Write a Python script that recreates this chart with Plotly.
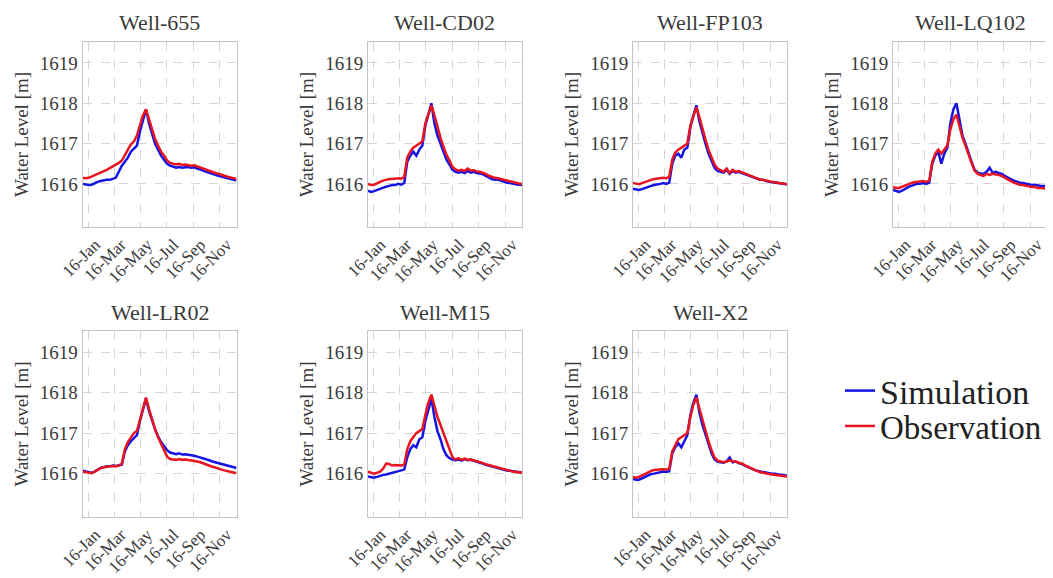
import pandas as pd
import plotly.graph_objects as go

# page has an 8px body margin; figure coordinates are page coordinates minus 8
OFF = 8
W, H = 1053 - OFF, 578 - OFF

wells = ["Well-655", "Well-CD02", "Well-FP103", "Well-LQ102", "Well-LR02", "Well-M15", "Well-X2"]
dates = pd.date_range("2016-01-03", periods=52, freq="7D")
tick_vals = ["2016-01-16", "2016-03-16", "2016-05-16", "2016-07-16", "2016-09-16", "2016-11-16"]
tick_text = ["16-Jan", "16-Mar", "16-May", "16-Jul", "16-Sep", "16-Nov"]
y_ticks = [1616, 1617, 1618, 1619]

sim_655 = [1616.0, 1615.98, 1615.97, 1615.98, 1616.02, 1616.05, 1616.07, 1616.09, 1616.1, 1616.1, 1616.12, 1616.15, 1616.3,
           1616.45, 1616.55, 1616.65, 1616.8, 1616.88, 1616.95, 1617.3, 1617.6, 1617.85, 1617.5, 1617.25, 1617.0, 1616.85,
           1616.7, 1616.6, 1616.5, 1616.45, 1616.42, 1616.4, 1616.42, 1616.4, 1616.41, 1616.42, 1616.4, 1616.41, 1616.38,
           1616.36, 1616.33, 1616.3, 1616.27, 1616.25, 1616.22, 1616.2, 1616.18, 1616.16, 1616.14, 1616.12, 1616.1, 1616.08]
obs_655 = [1616.15, 1616.14, 1616.15, 1616.18, 1616.22, 1616.25, 1616.28, 1616.31, 1616.35, 1616.39, 1616.43, 1616.47, 1616.52,
           1616.58, 1616.72, 1616.85, 1616.98, 1617.05, 1617.2, 1617.45, 1617.7, 1617.85, 1617.6, 1617.35, 1617.12, 1616.95,
           1616.8, 1616.7, 1616.58, 1616.52, 1616.5, 1616.48, 1616.5, 1616.47, 1616.48, 1616.47, 1616.45, 1616.46, 1616.43,
           1616.42, 1616.38, 1616.35, 1616.33, 1616.3, 1616.27, 1616.25, 1616.22, 1616.2, 1616.18, 1616.16, 1616.14, 1616.12]

sim_cd02 = [1615.83, 1615.8, 1615.82, 1615.85, 1615.88, 1615.9, 1615.93, 1615.95, 1615.97, 1615.97, 1616.0, 1615.98, 1616.02,
            1616.55, 1616.7, 1616.8, 1616.7, 1616.85, 1616.95, 1617.45, 1617.75, 1618.0, 1617.5, 1617.2, 1617.0, 1616.78,
            1616.6, 1616.48, 1616.35, 1616.3, 1616.28, 1616.3, 1616.27, 1616.32, 1616.28, 1616.3, 1616.27, 1616.26, 1616.24,
            1616.2, 1616.15, 1616.12, 1616.1, 1616.1, 1616.08, 1616.05, 1616.03, 1616.02, 1616.0, 1615.99, 1615.98, 1615.97]
obs_cd02 = [1616.0, 1615.97, 1615.98, 1616.02, 1616.05, 1616.08, 1616.1, 1616.12, 1616.12, 1616.13, 1616.14, 1616.13, 1616.17,
            1616.65, 1616.8, 1616.9, 1616.95, 1617.0, 1617.05, 1617.5, 1617.75, 1617.95, 1617.7, 1617.4, 1617.15, 1616.92,
            1616.72, 1616.58, 1616.42, 1616.36, 1616.33, 1616.35, 1616.32, 1616.38, 1616.33, 1616.34, 1616.31, 1616.3, 1616.28,
            1616.25, 1616.2, 1616.17, 1616.15, 1616.14, 1616.12, 1616.1, 1616.08, 1616.06, 1616.04, 1616.03, 1616.01, 1616.0]

sim_fp103 = [1615.88, 1615.86, 1615.85, 1615.87, 1615.9, 1615.93, 1615.95, 1615.97, 1615.98, 1616.0, 1616.02, 1616.0, 1616.03,
             1616.5, 1616.7, 1616.75, 1616.65, 1616.85, 1616.9, 1617.4, 1617.7, 1617.95, 1617.55, 1617.25, 1617.0, 1616.75,
             1616.55, 1616.4, 1616.32, 1616.3, 1616.28, 1616.35, 1616.25, 1616.32, 1616.28, 1616.3, 1616.27, 1616.25, 1616.22,
             1616.18, 1616.15, 1616.12, 1616.1, 1616.1, 1616.07, 1616.05, 1616.04, 1616.03, 1616.02, 1616.0, 1616.0, 1615.99]
obs_fp103 = [1616.02, 1616.0, 1615.99, 1616.02, 1616.05, 1616.08, 1616.1, 1616.12, 1616.13, 1616.14, 1616.15, 1616.14, 1616.17,
             1616.6, 1616.78, 1616.85, 1616.9, 1616.95, 1617.0, 1617.45, 1617.7, 1617.9, 1617.65, 1617.35, 1617.1, 1616.85,
             1616.65, 1616.48, 1616.38, 1616.33, 1616.3, 1616.38, 1616.27, 1616.35, 1616.3, 1616.32, 1616.28, 1616.26, 1616.23,
             1616.2, 1616.16, 1616.13, 1616.11, 1616.1, 1616.08, 1616.06, 1616.05, 1616.04, 1616.03, 1616.01, 1616.0, 1615.99]

sim_lq102 = [1615.85, 1615.82, 1615.8, 1615.83, 1615.88, 1615.92, 1615.95, 1615.97, 1616.0, 1616.0, 1616.02, 1616.0, 1616.03,
             1616.5, 1616.7, 1616.8, 1616.5, 1616.75, 1616.9, 1617.5, 1617.85, 1618.0, 1617.55, 1617.2, 1617.0, 1616.75,
             1616.55, 1616.35, 1616.28, 1616.26, 1616.25, 1616.3, 1616.4, 1616.28, 1616.3, 1616.27, 1616.25, 1616.2, 1616.15,
             1616.12, 1616.08, 1616.05, 1616.03, 1616.02, 1616.0, 1615.98, 1615.97, 1615.98, 1615.96, 1615.95, 1615.95, 1615.94]
obs_lq102 = [1615.92, 1615.9, 1615.9, 1615.93, 1615.97, 1616.0, 1616.02, 1616.04, 1616.05, 1616.06, 1616.07, 1616.05, 1616.08,
             1616.55, 1616.75, 1616.85, 1616.75, 1616.85, 1616.95, 1617.35, 1617.6, 1617.72, 1617.45, 1617.15, 1616.95, 1616.72,
             1616.52, 1616.33, 1616.25, 1616.22, 1616.2, 1616.25, 1616.22, 1616.25, 1616.24, 1616.22, 1616.2, 1616.15, 1616.1,
             1616.07, 1616.03, 1616.0, 1615.98, 1615.97, 1615.95, 1615.93, 1615.92, 1615.92, 1615.9, 1615.9, 1615.89, 1615.88]

sim_lr02 = [1616.07, 1616.05, 1616.03, 1616.02, 1616.05, 1616.1, 1616.14, 1616.16, 1616.18, 1616.18, 1616.2, 1616.19, 1616.2,
            1616.22, 1616.55, 1616.7, 1616.8, 1616.88, 1616.95, 1617.3, 1617.6, 1617.85, 1617.55, 1617.3, 1617.1, 1616.92,
            1616.78, 1616.68, 1616.58, 1616.52, 1616.5, 1616.48, 1616.5, 1616.47, 1616.48, 1616.47, 1616.45, 1616.44, 1616.42,
            1616.4, 1616.38, 1616.35, 1616.33, 1616.3, 1616.28, 1616.26, 1616.24, 1616.22, 1616.2, 1616.18, 1616.16, 1616.14]
obs_lr02 = [1616.05, 1616.04, 1616.02, 1616.01, 1616.05, 1616.1, 1616.14, 1616.16, 1616.17, 1616.18, 1616.19, 1616.18, 1616.2,
            1616.25, 1616.6, 1616.78, 1616.9, 1617.0, 1617.05, 1617.35, 1617.65, 1617.88, 1617.6, 1617.32, 1617.1, 1616.9,
            1616.72, 1616.58, 1616.42, 1616.36, 1616.35, 1616.34, 1616.36, 1616.34, 1616.35, 1616.34, 1616.33, 1616.32, 1616.3,
            1616.28, 1616.25, 1616.22, 1616.2, 1616.17, 1616.15, 1616.12, 1616.1, 1616.08, 1616.06, 1616.04, 1616.03, 1616.01]

sim_m15 = [1615.93, 1615.92, 1615.9, 1615.92, 1615.95, 1615.97, 1615.98, 1616.0, 1616.03, 1616.05, 1616.07, 1616.08, 1616.1,
           1616.4, 1616.6, 1616.7, 1616.65, 1616.85, 1616.9, 1617.3, 1617.6, 1617.85, 1617.4, 1617.05, 1616.85, 1616.6,
           1616.45, 1616.38, 1616.35, 1616.33, 1616.35, 1616.32, 1616.36, 1616.33, 1616.34, 1616.32, 1616.3, 1616.27, 1616.25,
           1616.22, 1616.2, 1616.17, 1616.15, 1616.13, 1616.12, 1616.1, 1616.08, 1616.07, 1616.06, 1616.05, 1616.04, 1616.03]
obs_m15 = [1616.05, 1616.03, 1616.0, 1616.02, 1616.05, 1616.12, 1616.25, 1616.24, 1616.2, 1616.21, 1616.2, 1616.2, 1616.22,
           1616.6, 1616.8, 1616.9, 1617.0, 1617.05, 1617.1, 1617.45, 1617.75, 1617.95, 1617.65, 1617.4, 1617.2, 1617.0,
           1616.75, 1616.55, 1616.4, 1616.35, 1616.38, 1616.34, 1616.37, 1616.34, 1616.35, 1616.33, 1616.31, 1616.28, 1616.26,
           1616.23, 1616.21, 1616.18, 1616.16, 1616.14, 1616.12, 1616.1, 1616.08, 1616.07, 1616.05, 1616.04, 1616.03, 1616.02]

sim_x2 = [1615.87, 1615.85, 1615.85, 1615.88, 1615.92, 1615.96, 1615.99, 1616.0, 1616.02, 1616.03, 1616.05, 1616.04, 1616.06,
          1616.5, 1616.65, 1616.75, 1616.65, 1616.8, 1616.95, 1617.45, 1617.75, 1617.95, 1617.5, 1617.2, 1616.95, 1616.7,
          1616.5, 1616.35, 1616.3, 1616.28, 1616.27, 1616.3, 1616.4, 1616.28, 1616.3, 1616.26, 1616.24, 1616.2, 1616.16,
          1616.12, 1616.1, 1616.07, 1616.05, 1616.04, 1616.03, 1616.01, 1616.0, 1616.0, 1615.98, 1615.97, 1615.96, 1615.95]
obs_x2 = [1615.92, 1615.9, 1615.92, 1615.96, 1616.0, 1616.04, 1616.07, 1616.09, 1616.1, 1616.1, 1616.11, 1616.1, 1616.12,
          1616.55, 1616.72, 1616.85, 1616.9, 1616.95, 1617.0, 1617.4, 1617.7, 1617.88, 1617.6, 1617.3, 1617.05, 1616.8,
          1616.58, 1616.4, 1616.32, 1616.3, 1616.28, 1616.3, 1616.33, 1616.3, 1616.3, 1616.27, 1616.25, 1616.21, 1616.17,
          1616.13, 1616.1, 1616.07, 1616.04, 1616.02, 1616.0, 1615.99, 1615.98, 1615.97, 1615.96, 1615.95, 1615.94, 1615.93]

simulation = [sim_655, sim_cd02, sim_fp103, sim_lq102, sim_lr02, sim_m15, sim_x2]
observation = [obs_655, obs_cd02, obs_fp103, obs_lq102, obs_lr02, obs_m15, obs_x2]

# ---- layout: panel boxes in page pixels ----
col_px = [(82.6, 236.5), (368, 522), (633, 787), (893, 1047)]
row_px = [(42, 227), (331, 517)]
FONT = "Liberation Serif, Times New Roman, serif"
BLUE = "#1414e6"
RED = "#e8141e"
TXT = "#3a3a3a"


def fx(px):
    return (px - OFF) / W


def fy(py):
    return 1 - (py - OFF) / H


fig = go.Figure()
annotations = []
for k, name in enumerate(wells):
    r, c = divmod(k, 4)
    n = k + 1
    xa = "x" if n == 1 else f"x{n}"
    ya = "y" if n == 1 else f"y{n}"
    fig.add_trace(go.Scatter(x=dates, y=simulation[k], mode="lines", name="Simulation",
                             line=dict(color=BLUE, width=2.5), xaxis=xa, yaxis=ya,
                             showlegend=(k == 0), legend="legend"))
    fig.add_trace(go.Scatter(x=dates, y=observation[k], mode="lines", name="Observation",
                             line=dict(color=RED, width=2.5), xaxis=xa, yaxis=ya,
                             showlegend=(k == 0), legend="legend2"))
    x0, x1 = col_px[c]
    y0, y1 = row_px[r]
    common = dict(showline=True, linecolor="#c4c4c4", linewidth=1, mirror=True,
                  showgrid=True, gridcolor="#d6d6d6", griddash="dash", gridwidth=1,
                  zeroline=False, ticks="", automargin=False)
    fig.layout[("xaxis" if n == 1 else f"xaxis{n}")] = dict(
        domain=[fx(x0), fx(x1)], anchor=ya, type="date",
        range=[dates[0], dates[-1]], tickvals=tick_vals, ticktext=tick_text,
        tickangle=-45, ticklabelshift=7, ticklabelstandoff=0,
        tickfont=dict(family=FONT, size=17, color=TXT), **common)
    fig.layout[("yaxis" if n == 1 else f"yaxis{n}")] = dict(
        domain=[fy(y1), fy(y0)], anchor=xa, range=[1614.93, 1619.52],
        tickvals=y_ticks, tickfont=dict(family=FONT, size=19, color=TXT),
        title=dict(text="Water Level [m]", standoff=6,
                   font=dict(family=FONT, size=19, color=TXT)),
        **common)
    annotations.append(dict(text=name, x=fx((x0 + x1) / 2), y=fy(y0 - 19),
                            xref="paper", yref="paper", showarrow=False,
                            xanchor="center", yanchor="middle",
                            font=dict(family=FONT, size=22, color=TXT)))

leg_common = dict(xanchor="left", yanchor="top",
                  bgcolor="rgba(255,255,255,0)", borderwidth=0, itemwidth=30)
fig.update_layout(
    width=W, height=H, margin=dict(l=0, r=0, t=0, b=0, autoexpand=False),
    paper_bgcolor="white", plot_bgcolor="white",
    annotations=annotations,
    legend=dict(x=fx(840), y=fy(362), font=dict(family=FONT, size=34, color="#222"), **leg_common),
    legend2=dict(x=fx(840), y=fy(398), font=dict(family=FONT, size=33, color="#222"), **leg_common),
    showlegend=True,
)

fig.write_html("out.html")
